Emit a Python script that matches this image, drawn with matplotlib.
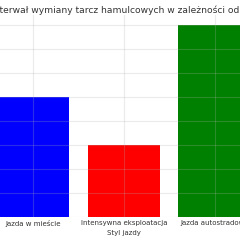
import matplotlib
matplotlib.use("Agg")
import matplotlib.pyplot as plt

categories = ["Jazda w mieście", "Intensywna eksploatacja", "Jazda autostradowa"]
values = [5, 3, 8]
colors = ["#0000ff", "#ff0000", "#008000"]
title = "Interwał wymiany tarcz hamulcowych w zależności od stylu jazdy"
xlabel = "Styl jazdy"

W = 240
fig = plt.figure(figsize=(2.4, 2.4), dpi=100)
ax = fig.add_axes([-16.1 / W, 23 / W, 280 / W, 201.6 / W])
x = range(len(categories))
ax.bar(x, values, width=0.8, color=colors, zorder=1)
ax.set_xticks(list(x))
ax.set_xticklabels(categories, fontsize=5, color="#333333")
ax.set_xlabel(xlabel, fontsize=5, color="#333333", labelpad=2)
ax.tick_params(length=0, pad=2)
ax.set_yticks(range(0, 9))
ax.set_yticklabels([])
ax.grid(True, color="#b0b0b0", alpha=0.25, linewidth=0.8, zorder=3)
ax.set_axisbelow(False)
for s in ax.spines.values():
    s.set_visible(False)

fig.text(-9 / W, 1 - 10 / W, title, fontsize=6.6, color="#333333",
         ha="left", va="center")

fig.savefig("out.png", dpi=100)
